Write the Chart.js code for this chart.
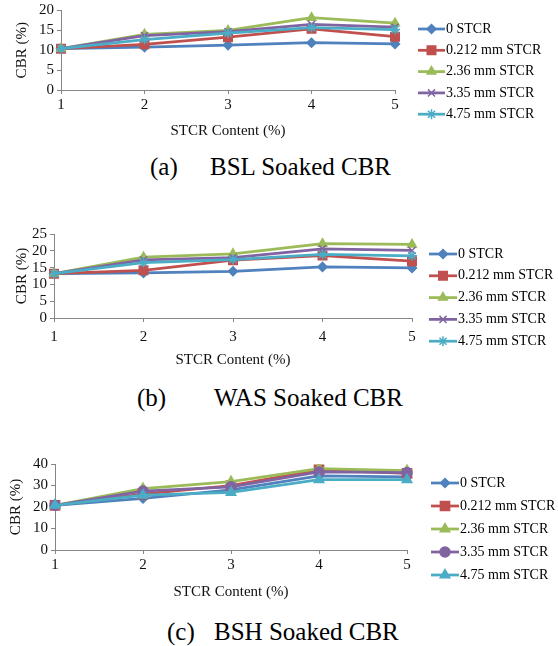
<!DOCTYPE html>
<html>
<head>
<meta charset="utf-8">
<script src="https://cdn.jsdelivr.net/npm/chart.js@4.4.1/dist/chart.umd.min.js"></script>
<style>
  body { margin: 0; background: #fff; }
  #wrap { position: relative; width: 558px; height: 646px; overflow: hidden; }
  canvas { position: absolute; left: 0; }
  .cap { position: absolute; font-family: "Liberation Serif", "Times New Roman", serif; font-size: 25px; color: #000; white-space: pre; line-height: 30px; }
</style>
</head>
<body>
<div id="wrap">
  <canvas id="bsl" width="558" height="140" style="top:0px"></canvas>
  <canvas id="was" width="558" height="179" style="top:190px"></canvas>
  <canvas id="bsh" width="558" height="181" style="top:420px"></canvas>
  <div class="cap" style="left:150px; top:152px">(a)</div>
  <div class="cap" style="left:210px; top:152px">BSL Soaked CBR</div>
  <div class="cap" style="left:137px; top:383px">(b)</div>
  <div class="cap" style="left:214px; top:383px">WAS Soaked CBR</div>
  <div class="cap" style="left:167px; top:617px">(c)</div>
  <div class="cap" style="left:214px; top:617px">BSH Soaked CBR</div>
</div>
<script>
// STCR content (%) on the x axis
var stcrContent = ['1', '2', '3', '4', '5'];
var seriesNames = ['0 STCR', '0.212 mm STCR', '2.36 mm STCR', '3.35 mm STCR', '4.75 mm STCR'];

// (a) BSL soaked CBR (%)
var bsl0    = [10.4, 10.8, 11.3, 11.9, 11.6];
var bsl0212 = [10.4, 11.5, 13.3, 15.4, 13.4];
var bsl236  = [10.4, 14.0, 15.0, 18.2, 16.8];
var bsl335  = [10.4, 13.7, 14.7, 16.5, 15.8];
var bsl475  = [10.4, 12.7, 14.3, 15.7, 15.2];

// (b) WAS soaked CBR (%)
var was0    = [13.2, 13.4, 13.9, 15.2, 14.9];
var was0212 = [13.2, 14.2, 17.2, 18.6, 16.9];
var was236  = [13.2, 18.1, 19.1, 22.1, 21.9];
var was335  = [13.2, 17.3, 18.0, 20.6, 20.1];
var was475  = [13.2, 16.5, 17.4, 18.9, 18.5];

// (c) BSH soaked CBR (%)
var bsh0    = [20.8, 24.0, 28.0, 34.5, 34.0];
var bsh0212 = [20.8, 26.0, 30.0, 37.3, 35.6];
var bsh236  = [20.8, 28.6, 31.8, 37.8, 36.9];
var bsh335  = [20.8, 27.4, 29.4, 36.3, 36.0];
var bsh475  = [20.8, 25.5, 26.8, 32.7, 32.7];

var colors = ['#4F81BD', '#C0504D', '#9BBB59', '#8064A2', '#4BACC6'];
var serif = '"Liberation Serif", "Times New Roman", serif';
Chart.defaults.font.family = serif;
Chart.defaults.color = '#000';

// legend: short line with marker, then the name (Excel style)
var lineLegend = {
  id: 'lineLegend',
  afterDraw: function(chart, args, opts) {
    var ctx = chart.ctx;
    ctx.save();
    chart.data.datasets.forEach(function(ds, i) {
      var y = opts.y + i * opts.gap;
      ctx.strokeStyle = ds.borderColor;
      ctx.lineWidth = 2.75;
      ctx.beginPath();
      ctx.moveTo(opts.x, y);
      ctx.lineTo(opts.x + opts.len, y);
      ctx.stroke();
      ctx.fillStyle = ds.pointBackgroundColor;
      ctx.strokeStyle = ds.pointBorderColor;
      ctx.lineWidth = ds.pointBorderWidth;
      Chart.helpers.drawPoint(ctx, {
        pointStyle: ds.pointStyle, radius: ds.pointRadius,
        borderWidth: ds.pointBorderWidth, rotation: 0
      }, opts.x + opts.len / 2, y);
      ctx.fillStyle = '#000';
      ctx.font = '14px ' + serif;
      ctx.textBaseline = 'middle';
      ctx.textAlign = 'left';
      ctx.fillText(ds.label, opts.x + opts.len + 1, y);
    });
    ctx.restore();
  }
};

function makeChart(id, values, styles, radii, cfg) {
  var datasets = values.map(function(v, i) {
    return {
      label: seriesNames[i],
      data: v,
      borderColor: colors[i],
      backgroundColor: colors[i],
      pointBackgroundColor: colors[i],
      pointBorderColor: colors[i],
      pointBorderWidth: 1.5,
      pointStyle: styles[i],
      pointRadius: radii[i],
      borderWidth: 2.75,
      tension: 0,
      order: 4 - i
    };
  });
  return new Chart(document.getElementById(id), {
    type: 'line',
    data: { labels: stcrContent, datasets: datasets },
    options: {
      responsive: false,
      animation: false,
      layout: { padding: { top: cfg.top, right: cfg.right, left: cfg.left, bottom: 0 } },
      plugins: {
        legend: { display: false },
        tooltip: { enabled: false },
        lineLegend: cfg.legend
      },
      scales: {
        x: {
          offset: false,
          grid: { display: true, drawOnChartArea: false, drawTicks: true, tickLength: 4, color: '#868686' },
          border: { display: true, color: '#868686', width: 1 },
          ticks: { font: { size: 15 }, padding: cfg.xPad, color: '#111', maxRotation: 0, autoSkip: false },
          title: { display: true, text: 'STCR Content (%)', font: { size: 15 }, padding: 0, color: '#111' },
          afterFit: function(s) { s.height = cfg.xHeight; }
        },
        y: {
          min: 0, max: cfg.max,
          grid: { display: true, drawOnChartArea: false, drawTicks: true, tickLength: 4, color: '#868686' },
          border: { display: true, color: '#868686', width: 1 },
          ticks: { stepSize: cfg.step, font: { size: 15, lineHeight: 1 }, padding: 3, color: '#111', autoSkip: false },
          title: { display: true, text: 'CBR (%)', font: { size: 15 }, padding: 0, color: '#111' },
          afterFit: function(s) { s.width = cfg.yWidth; }
        }
      }
    },
    plugins: [lineLegend]
  });
}

var markersA = ['rectRot', 'rect', 'triangle', 'crossRot', 'star'];
var markersC = ['rectRot', 'rect', 'triangle', 'circle', 'triangle'];
var radiiAB = [4.5, 6, 5, 5, 5];
var radiiC = [4.5, 6.5, 5.5, 5, 5.5];

makeChart('bsl', [bsl0, bsl0212, bsl236, bsl335, bsl475], markersA, radiiAB, {
  top: 10, right: 163, left: 13, yWidth: 48, xHeight: 50, xPad: 2, max: 20, step: 5,
  legend: { x: 418, y: 29, gap: 21.3, len: 27 }
});

makeChart('was', [was0, was0212, was236, was335, was475], markersA, radiiAB, {
  top: 44, right: 146, left: 13, yWidth: 41, xHeight: 51, xPad: 6, max: 25, step: 5,
  legend: { x: 429, y: 64, gap: 21.8, len: 28 }
});

makeChart('bsh', [bsh0, bsh0212, bsh236, bsh335, bsh475], markersC, radiiC, {
  top: 44, right: 151, left: 7, yWidth: 48, xHeight: 51, xPad: 2, max: 40, step: 10,
  legend: { x: 431, y: 63, gap: 23, len: 28 }
});
</script>
</body>
</html>
